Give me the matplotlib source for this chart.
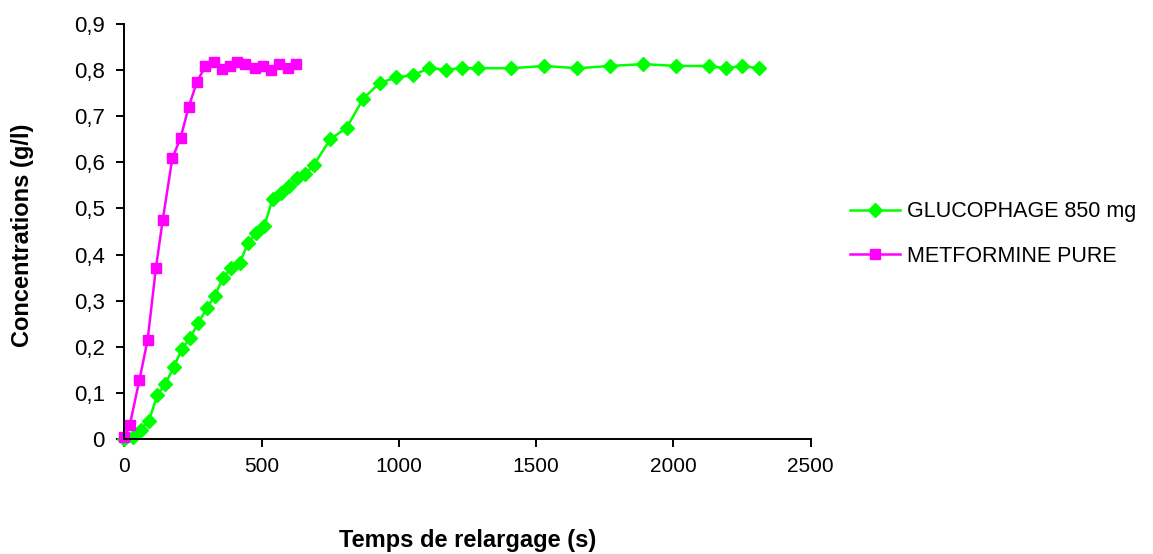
import matplotlib
matplotlib.use("Agg")
import matplotlib.pyplot as plt
from matplotlib.ticker import FuncFormatter, MultipleLocator

plt.rcParams['font.family'] = ['Liberation Sans', 'DejaVu Sans']

# Release of metformin: concentration (g/l) versus time (s)
glucophage_t = [0, 30, 60, 90, 120, 150, 180, 210, 240, 270, 300, 330, 360, 390,
                420, 450, 480, 510, 540, 570, 600, 630, 660, 690, 750, 810, 870,
                930, 990, 1050, 1110, 1170, 1230, 1290, 1410, 1530, 1650, 1770,
                1890, 2010, 2130, 2190, 2250, 2310]
glucophage_c = [0.0, 0.005, 0.02, 0.04, 0.095, 0.12, 0.156, 0.195, 0.22, 0.252,
                0.283, 0.311, 0.35, 0.37, 0.381, 0.424, 0.446, 0.462, 0.52, 0.533,
                0.549, 0.567, 0.575, 0.594, 0.65, 0.675, 0.738, 0.772, 0.784,
                0.789, 0.804, 0.801, 0.804, 0.804, 0.804, 0.809, 0.804, 0.809,
                0.813, 0.809, 0.809, 0.804, 0.809, 0.804]

metformine_t = [0, 20, 55, 85, 115, 140, 175, 205, 235, 265, 295, 325, 355, 385,
                410, 440, 475, 505, 535, 565, 595, 625]
metformine_c = [0.005, 0.03, 0.128, 0.215, 0.37, 0.475, 0.609, 0.653, 0.721, 0.775,
                0.808, 0.818, 0.803, 0.809, 0.818, 0.813, 0.804, 0.808, 0.80,
                0.813, 0.804, 0.814]

series_labels = ["GLUCOPHAGE 850 mg", "METFORMINE PURE"]

FS = 15

fig = plt.figure(figsize=(11.53, 5.54), dpi=100)
ax = fig.add_axes([0.1078, 0.2076, 0.5953, 0.7491])

ax.plot(glucophage_t, glucophage_c, color="#00FF00", lw=1.8, marker="D",
        ms=7, mec="#00FF00", mfc="#00FF00", label=series_labels[0])
ax.plot(metformine_t, metformine_c, color="#FF00FF", lw=1.8, marker="s",
        ms=7.5, mec="#FF00FF", mfc="#FF00FF", label=series_labels[1])

ax.set_xlim(0, 2500)
ax.set_ylim(0, 0.9)
ax.xaxis.set_major_locator(MultipleLocator(500))
ax.yaxis.set_major_locator(MultipleLocator(0.1))
ax.yaxis.set_major_formatter(FuncFormatter(
    lambda v, p: "0" if abs(v) < 1e-9 else f"{v:.1f}".replace(".", ",")))

for side in ("top", "right"):
    ax.spines[side].set_visible(False)
for side in ("left", "bottom"):
    ax.spines[side].set_linewidth(1.4)
ax.tick_params(direction="out", length=6, width=1.4, labelsize=FS,
               colors="black")
ax.tick_params(axis="y", pad=8, labelsize=FS + 1)
ax.tick_params(axis="x", pad=7)
for line in ax.lines:
    line.set_clip_on(False)

ax.set_ylabel("Concentrations (g/l)", fontsize=FS + 2, fontweight="bold")
ax.yaxis.set_label_coords(-0.1476, 0.49)
ax.yaxis.label.set_va("center")
ax.set_xlabel("Temps de relargage (s)", fontsize=FS + 2, fontweight="bold")
ax.xaxis.set_label_coords(0.5, -0.2458)
ax.xaxis.label.set_va("center")

fig.legend(loc="center left", bbox_to_anchor=(0.7372, 0.5776), frameon=False,
           fontsize=FS + 0.5, handlelength=2.3, labelspacing=1.1,
           handletextpad=0.35, borderpad=0, borderaxespad=0)

fig.savefig("out.png", dpi=100, facecolor="white")
